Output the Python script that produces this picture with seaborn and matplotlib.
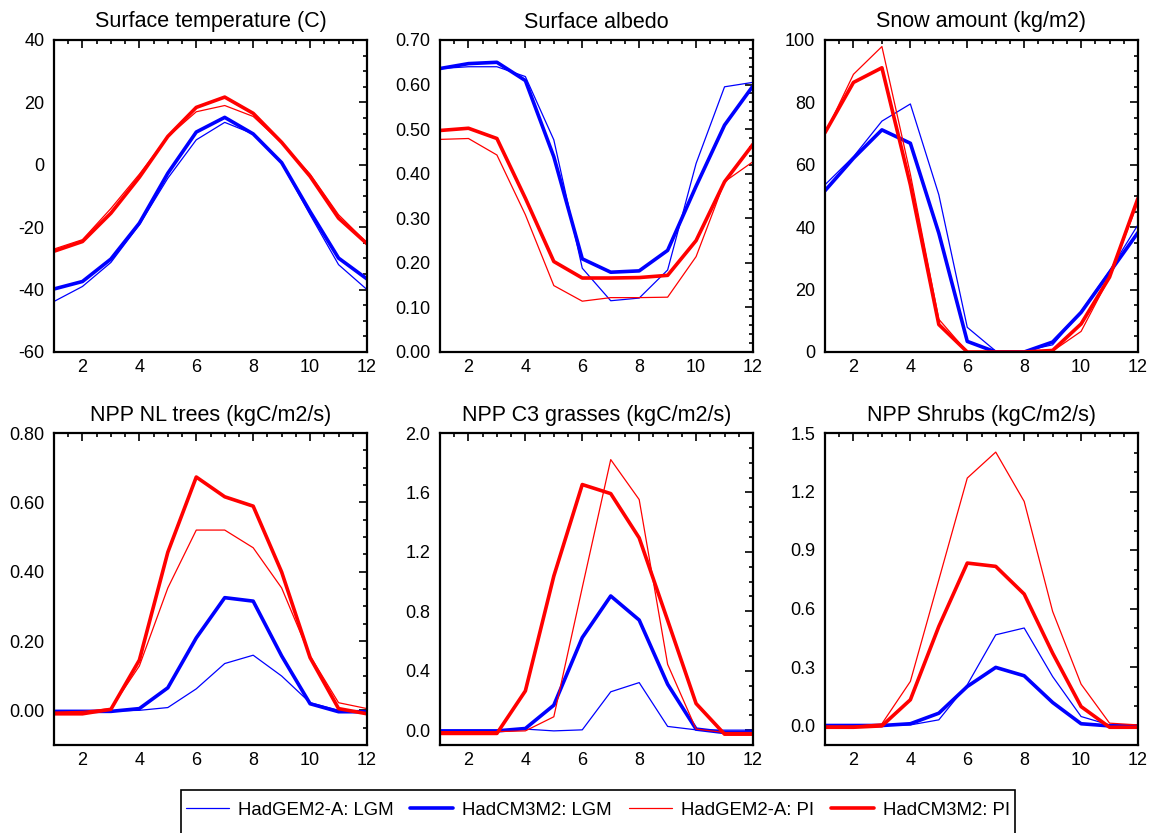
import numpy as np
import pandas as pd
import seaborn as sns
import matplotlib.pyplot as plt
from matplotlib.lines import Line2D
from matplotlib.patches import Rectangle
from matplotlib.ticker import MultipleLocator, FormatStrFormatter

months = list(range(1, 13))
runs = ["HadGEM2-A: LGM", "HadCM3M2: LGM", "HadGEM2-A: PI", "HadCM3M2: PI"]

# surface temperature (C)
tsurf_gem_lgm = [-43.8, -39.0, -31.3, -19.2, -4.3, 8.0, 13.6, 9.9, 0.5, -16.0, -32.0, -40.0]
tsurf_cm3_lgm = [-39.8, -37.4, -30.2, -18.7, -2.7, 10.5, 15.2, 9.9, 0.7, -15.0, -29.9, -36.6]
tsurf_gem_pi = [-27.0, -24.0, -14.0, -3.0, 9.0, 17.0, 19.0, 15.5, 7.0, -3.0, -16.0, -25.0]
tsurf_cm3_pi = [-27.7, -24.6, -15.5, -4.0, 9.1, 18.4, 21.7, 16.5, 7.2, -3.7, -17.1, -25.3]

# surface albedo
albedo_gem_lgm = [0.636, 0.640, 0.640, 0.618, 0.476, 0.188, 0.115, 0.121, 0.184, 0.423, 0.595, 0.605]
albedo_cm3_lgm = [0.636, 0.647, 0.650, 0.609, 0.438, 0.209, 0.179, 0.182, 0.228, 0.372, 0.509, 0.597]
albedo_gem_pi = [0.477, 0.479, 0.442, 0.308, 0.149, 0.114, 0.122, 0.122, 0.123, 0.214, 0.382, 0.427]
albedo_cm3_pi = [0.497, 0.502, 0.479, 0.345, 0.203, 0.166, 0.166, 0.167, 0.172, 0.250, 0.382, 0.466]

# snow amount (kg/m2)
snow_gem_lgm = [53.6, 62.6, 74.0, 79.5, 50.4, 7.9, 0.3, 0.3, 2.3, 13.0, 26.0, 40.8]
snow_cm3_lgm = [51.7, 62.1, 71.2, 66.9, 38.1, 3.4, 0.0, 0.0, 3.2, 12.7, 25.5, 38.3]
snow_gem_pi = [70.0, 89.0, 97.9, 57.0, 10.5, 0.0, 0.0, 0.0, 0.3, 6.6, 24.0, 48.0]
snow_cm3_pi = [70.3, 86.4, 91.1, 53.6, 8.8, 0.0, 0.0, 0.0, 0.5, 9.0, 24.0, 49.3]

# NPP needleleaf trees (kgC/m2/s)
nl_gem_lgm = [-0.003, -0.003, -0.002, 0.000, 0.008, 0.062, 0.135, 0.159, 0.099, 0.022, 0.000, -0.002]
nl_cm3_lgm = [-0.003, -0.003, -0.003, 0.005, 0.065, 0.209, 0.325, 0.315, 0.157, 0.019, -0.004, -0.004]
nl_gem_pi = [-0.005, -0.003, 0.005, 0.128, 0.353, 0.520, 0.520, 0.469, 0.353, 0.157, 0.022, 0.005]
nl_cm3_pi = [-0.010, -0.010, 0.003, 0.145, 0.456, 0.673, 0.616, 0.589, 0.399, 0.152, 0.005, -0.010]

# NPP C3 grasses (kgC/m2/s)
c3_gem_lgm = [-0.005, -0.005, -0.005, 0.007, -0.005, 0.002, 0.258, 0.320, 0.025, 0.002, 0.000, 0.000]
c3_cm3_lgm = [-0.005, -0.005, -0.005, 0.011, 0.168, 0.623, 0.903, 0.741, 0.309, 0.007, -0.016, -0.016]
c3_gem_pi = [-0.010, -0.010, -0.010, -0.005, 0.090, 0.960, 1.821, 1.552, 0.443, 0.007, -0.016, -0.016]
c3_cm3_pi = [-0.022, -0.022, -0.022, 0.264, 1.037, 1.653, 1.592, 1.294, 0.739, 0.179, -0.027, -0.027]

# NPP shrubs (kgC/m2/s)
shrub_gem_lgm = [0.000, 0.000, 0.000, 0.003, 0.029, 0.209, 0.465, 0.500, 0.251, 0.046, 0.003, 0.000]
shrub_cm3_lgm = [0.000, 0.000, 0.000, 0.009, 0.063, 0.200, 0.298, 0.255, 0.118, 0.009, -0.002, -0.002]
shrub_gem_pi = [-0.003, -0.003, 0.009, 0.226, 0.747, 1.269, 1.402, 1.149, 0.585, 0.212, 0.012, 0.003]
shrub_cm3_pi = [-0.009, -0.009, -0.002, 0.132, 0.508, 0.833, 0.816, 0.674, 0.371, 0.097, -0.009, -0.009]

colors = {runs[0]: "#0000ff", runs[1]: "#0000ff", runs[2]: "#ff0000", runs[3]: "#ff0000"}
widths = {runs[0]: 0.9, runs[1]: 2.6, runs[2]: 0.9, runs[3]: 2.6}

sns.set_style("white")
plt.rcParams["font.family"] = ["Liberation Sans", "DejaVu Sans"]
plt.rcParams["text.color"] = "black"
plt.rcParams["xtick.color"] = "black"
plt.rcParams["ytick.color"] = "black"

panels = [
    ("Surface temperature (C)", [tsurf_gem_lgm, tsurf_cm3_lgm, tsurf_gem_pi, tsurf_cm3_pi], (-60, 40), 20, 5, "%d"),
    ("Surface albedo", [albedo_gem_lgm, albedo_cm3_lgm, albedo_gem_pi, albedo_cm3_pi], (0, 0.70), 0.1, 0.02, "%.2f"),
    ("Snow amount (kg/m2)", [snow_gem_lgm, snow_cm3_lgm, snow_gem_pi, snow_cm3_pi], (0, 100), 20, 5, "%d"),
    ("NPP NL trees (kgC/m2/s)", [nl_gem_lgm, nl_cm3_lgm, nl_gem_pi, nl_cm3_pi], (-0.1, 0.8), 0.2, 0.05, "%.2f"),
    ("NPP C3 grasses (kgC/m2/s)", [c3_gem_lgm, c3_cm3_lgm, c3_gem_pi, c3_cm3_pi], (-0.1, 2.0), 0.4, 0.1, "%.1f"),
    ("NPP Shrubs (kgC/m2/s)", [shrub_gem_lgm, shrub_cm3_lgm, shrub_gem_pi, shrub_cm3_pi], (-0.1, 1.5), 0.3, 0.1, "%.1f"),
]

W, H = 1149, 833
fig = plt.figure(figsize=(W / 100, H / 100), dpi=100)
lefts = [54, 440, 825]
tops = [40, 433]
aw, ah = 313, 312

for i, (title, series, ylim, major, minor, fmt) in enumerate(panels):
    row, col = divmod(i, 3)
    ax = fig.add_axes([lefts[col] / W, 1 - (tops[row] + ah) / H, aw / W, ah / H])
    df = pd.concat([pd.DataFrame({"month": months, "value": vals, "run": r})
                    for r, vals in zip(runs, series)])
    sns.lineplot(data=df, x="month", y="value", hue="run", size="run",
                 palette=colors, sizes=widths, legend=False, ax=ax)
    ax.set_xlim(1, 12)
    ax.set_ylim(*ylim)
    ax.xaxis.set_major_locator(MultipleLocator(2))
    ax.xaxis.set_minor_locator(MultipleLocator(0.5))
    ax.yaxis.set_major_locator(MultipleLocator(major))
    ax.yaxis.set_minor_locator(MultipleLocator(minor))
    ax.yaxis.set_major_formatter(FormatStrFormatter(fmt))
    ax.tick_params(which="both", direction="in", top=True, right=True, width=1.2,
                   labelsize=13, colors="black")
    ax.tick_params(which="major", length=6)
    ax.tick_params(which="minor", length=3)
    ax.tick_params(axis="y", pad=7)
    ax.tick_params(axis="x", pad=5)
    for s in ax.spines.values():
        s.set_linewidth(1.6)
        s.set_color("black")
    ax.set_xlabel("")
    ax.set_ylabel("")
    ax.set_title(title, fontsize=15.5, pad=9, color="black")

# legend box along the bottom
fig.patches.append(Rectangle((181 / W, -0.02), (1015 - 181) / W, 0.02 + (1 - 790 / H),
                             transform=fig.transFigure, fill=False, edgecolor="black",
                             linewidth=1.2))
handles = [Line2D([], [], color=colors[r], linewidth=widths[r]) for r in runs]
fig.legend(handles, runs, loc="center", bbox_to_anchor=(598 / W, 1 - 810 / H), ncol=4,
           frameon=False, fontsize=13.4, handlelength=2.3, handletextpad=0.5,
           columnspacing=0.9, labelcolor="black")

fig.savefig("out.png", dpi=100)
